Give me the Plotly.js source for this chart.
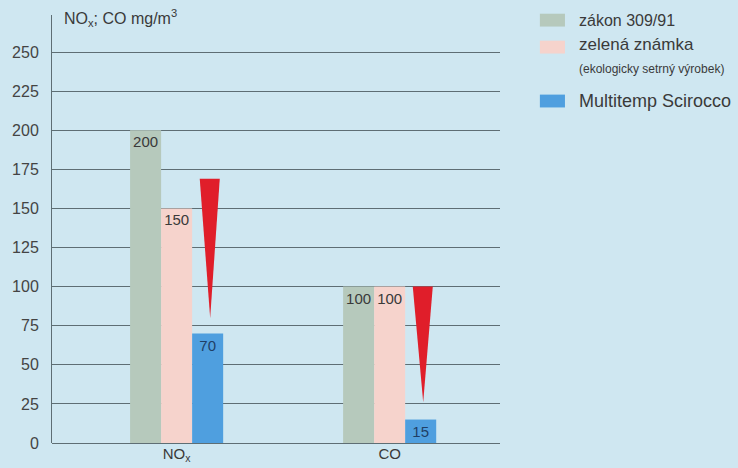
<!DOCTYPE html>
<html><head><meta charset="utf-8">
<script src="https://cdn.plot.ly/plotly-3.0.1.min.js"></script>
<style>html,body{margin:0;padding:0;background:#cfe7f1;}#chart{width:738px;height:468px;}</style>
</head><body><div id="chart"></div>
<script>
const categories = ["NO<sub>x</sub>", "CO"];
const seriesNames = ["zákon 309/91", "zelená známka", "Multitemp Scirocco"];
const seriesNote = "(ekologicky setrný výrobek)";
const zakon = [200, 100];
const zelena = [150, 100];
const multitemp = [70, 15];
const arrowTop = [169, 100];
const arrowTip = [80, 26];
const yTicks = [0, 25, 50, 75, 100, 125, 150, 175, 200, 225, 250];

const colors = ["#b6c9bc", "#f6d3cc", "#4f9fdf"];
const xs = categories.map((c, i) => i);
const font = {family: "Liberation Sans, Arial, sans-serif", color: "#3a3a3a"};

const traces = [zakon, zelena, multitemp].map((vals, k) => ({
  type: "bar", x: xs, y: vals, name: seriesNames[k],
  marker: {color: colors[k]},
  text: vals.map(String), textposition: "inside", insidetextanchor: "end",
  textfont: {family: font.family, size: 15, color: k === 2 ? "#1f3f66" : "#3a3a3a"},
  textangle: 0, showlegend: false, hoverinfo: "skip"
}));

// red wedge arrows, centred on the third bar of each group
const barOff = 0.1455, half = 0.047;
xs.forEach((x, i) => {
  const cx = x + barOff + 0.01;
  traces.push({
    type: "scatter", mode: "lines", fill: "toself",
    x: [cx - half, cx + half, cx + 0.002, cx - half],
    y: [arrowTop[i], arrowTop[i], arrowTip[i], arrowTop[i]],
    line: {color: "#e01e2a", width: 0}, fillcolor: "#e01e2a",
    showlegend: false, hoverinfo: "skip"
  });
});

const legendY = [0.988, 0.925, 0.799];
const shapes = legendY.map((yy, k) => ({
  type: "rect", xref: "paper", yref: "paper",
  x0: 1.089, x1: 1.145, y0: yy - 0.015, y1: yy + 0.015,
  fillcolor: colors[k], line: {width: 0}
}));
const tx = 1.172;
const annotations = [
  {xref: "paper", yref: "paper", x: tx, y: legendY[0], text: seriesNames[0], showarrow: false, xanchor: "left", yanchor: "middle", font: {...font, size: 16}},
  {xref: "paper", yref: "paper", x: tx, y: legendY[1] + 0.005, text: seriesNames[1], showarrow: false, xanchor: "left", yanchor: "middle", font: {...font, size: 17}},
  {xref: "paper", yref: "paper", x: tx, y: 0.873, text: seriesNote, showarrow: false, xanchor: "left", yanchor: "middle", font: {...font, size: 12}},
  {xref: "paper", yref: "paper", x: tx, y: legendY[2], text: seriesNames[2], showarrow: false, xanchor: "left", yanchor: "middle", font: {...font, size: 18}},
  {xref: "paper", yref: "paper", x: 0.022, y: 0.993, text: "NO<sub>x</sub>; CO mg/m<sup>3</sup>", showarrow: false, xanchor: "left", yanchor: "middle", font: {...font, size: 16}}
];

const layout = {
  width: 738, height: 468,
  margin: {l: 52, r: 238, t: 15, b: 25},
  paper_bgcolor: "#cfe7f1", plot_bgcolor: "#cfe7f1",
  font: font,
  barmode: "group", bargap: 0.563, bargroupgap: 0,
  xaxis: {
    range: [-0.585, 1.518], tickvals: xs, ticktext: categories,
    showgrid: false, zeroline: false, showline: false, ticks: "",
    tickfont: {...font, size: 15}, fixedrange: true
  },
  yaxis: {
    range: [0, 273.7], tickvals: yTicks, ticktext: yTicks.map(String),
    showgrid: true, gridcolor: "#5e6e74", gridwidth: 1,
    zeroline: true, zerolinecolor: "#5e6e74", zerolinewidth: 1,
    showline: true, linecolor: "#5e6e74", linewidth: 1,
    ticks: "", ticklabelstandoff: 9,
    tickfont: {...font, size: 16, color: "#444"}, fixedrange: true
  },
  shapes: shapes, annotations: annotations
};

Plotly.newPlot("chart", traces, layout, {displayModeBar: false, staticPlot: true});
</script></body></html>
